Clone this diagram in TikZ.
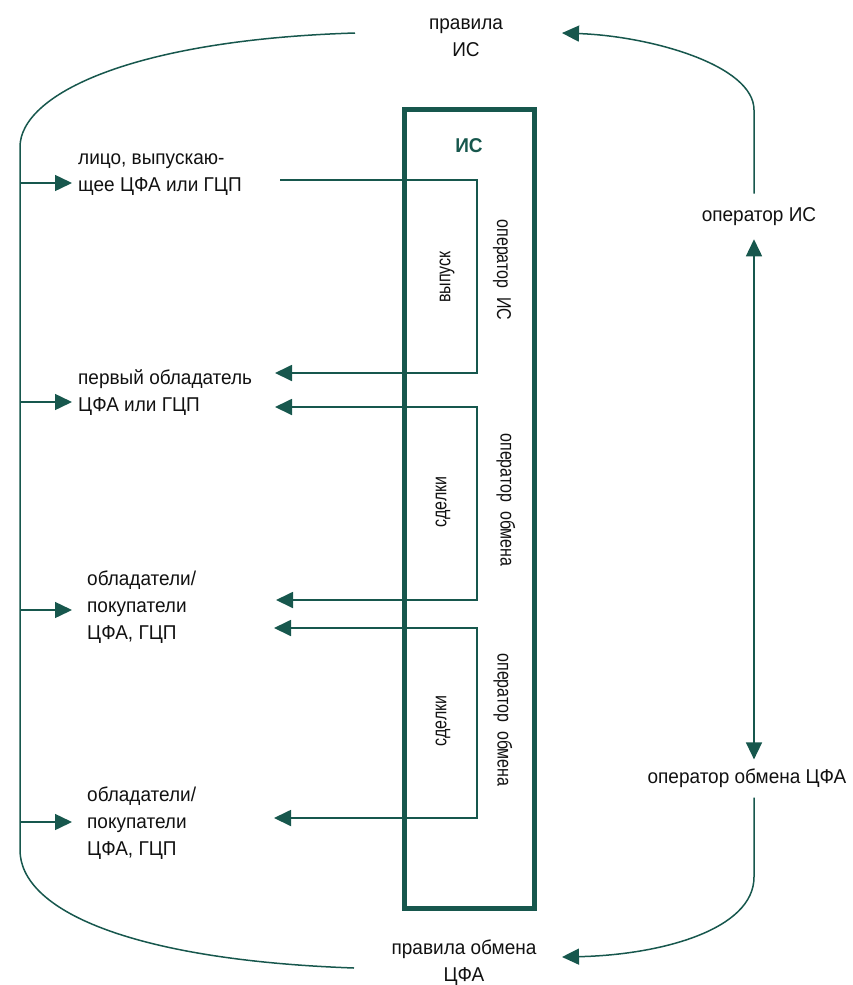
\documentclass[tikz,border=0pt]{standalone}
\usepackage{fontspec}
\setmainfont{Liberation Sans}[FakeStretch=0.95]
\newfontfamily\narrowfont{Liberation Sans}[FakeStretch=0.8]
\usetikzlibrary{arrows.meta}
\definecolor{isgreen}{RGB}{23,87,77}
\definecolor{ink}{RGB}{17,17,17}
\tikzset{
  lbl/.style={font=\fontsize{20}{27}\selectfont, text=ink, inner sep=0pt, align=left},
  side/.style={font=\fontsize{20}{27}\selectfont, text=ink, inner sep=0pt, align=center},
  vlbl/.style={font=\narrowfont\fontsize{20}{24}\selectfont, text=ink, inner sep=0pt},
  link/.style={draw=isgreen, line width=1.8pt},
  curve/.style={draw=isgreen, line width=1.5pt},
}
\begin{document}
\begin{tikzpicture}[x=1pt,y=-1pt,>={Triangle[length=17pt,width=16pt]}]
  \useasboundingbox (0,0) rectangle (852,985);
  % information system
  \node[draw=isgreen, line width=5pt, minimum width=130pt, minimum height=799pt, inner sep=0pt] (IS) at (469,508.5) {};
  \node[font=\bfseries\fontsize{20}{24}\selectfont, text=isgreen, inner sep=0pt] (IStitle) at (469,146) {ИС};
  % rules
  \node[side] (rulesIS) at (466,38) {правила\\ИС};
  \node[side] (rulesEx) at (464,963) {правила обмена\\ЦФА};
  % operators
  \node[side] (opIS) at (759,217) {оператор ИС};
  \node[side] (opEx) at (747,778) {оператор обмена ЦФА};
  % participants
  \node[lbl, anchor=west] (issuer) at (78,175) {лицо, выпускаю-\\щее ЦФА или ГЦП};
  \node[lbl, anchor=west] (first) at (78,393) {первый обладатель\\ЦФА или ГЦП};
  \node[lbl, anchor=west] (holdA) at (87,607) {обладатели/\\покупатели\\ЦФА, ГЦП};
  \node[lbl, anchor=west] (holdB) at (87,823) {обладатели/\\покупатели\\ЦФА, ГЦП};
  % inside the box
  \node[vlbl, rotate=90] (issue) at (447,277) {выпуск};
  \node[vlbl, rotate=-90] (opISin) at (502,270) {оператор\ \ ИС};
  \node[vlbl, rotate=90] (dealsA) at (443,502) {сделки};
  \node[vlbl, rotate=-90] (opExA) at (506,500) {оператор\ \ обмена};
  \node[vlbl, rotate=90] (dealsB) at (443,721) {сделки};
  \node[vlbl, rotate=-90] (opExB) at (503,720) {оператор\ \ обмена};

  \coordinate (bus) at (20,0);
  \coordinate (rx) at (754,0);
  \coordinate (kx) at (477,0);
  \coordinate (topL) at (355,33);
  \coordinate (topR) at (562,33);
  \coordinate (botL) at (354,968);
  \coordinate (botR) at (562,957);

  % left bus
  \draw[curve] (topL) .. controls (130,40) and (20,95) .. (20,147) -- (20,850)
    .. controls (20,910) and (130,960) .. (botL);
  \draw[curve,->] ([yshift=-8pt]issuer.west -| bus) -- ([shift={(-6pt,-8pt)}]issuer.west);
  \draw[curve,->] ([yshift=-9pt]first.west -| bus) -- ([shift={(-6pt,-9pt)}]first.west);
  \draw[curve,->] ([yshift=-3pt]holdA.west -| bus) -- ([shift={(-15pt,-3pt)}]holdA.west);
  \draw[curve,->] ([yshift=1pt]holdB.west -| bus) -- ([shift={(-15pt,1pt)}]holdB.west);

  % right side
  \draw[curve,->] ([yshift=14pt]opIS.north -| rx) -- (754,110)
    .. controls (754,65) and (650,36) .. (topR);
  \draw[curve,<->] ([yshift=-13pt]opIS.south -| rx) -- ([yshift=9pt]opEx.north -| rx);
  \draw[curve,->] ([yshift=-10pt]opEx.south -| rx) -- (754,877)
    .. controls (754,930) and (660,955) .. (botR);

  % brackets through the box
  \coordinate (s1) at (280,180);
  \coordinate (e1) at (275,373);
  \draw[link,->] (s1) -- (s1 -| kx) -- (e1 -| kx) -- (e1);
  \coordinate (s2) at (275,407);
  \coordinate (e2) at (276,600);
  \draw[link,<->] (s2) -- (s2 -| kx) -- (e2 -| kx) -- (e2);
  \coordinate (s3) at (274,628);
  \coordinate (e3) at (274,818);
  \draw[link,<->] (s3) -- (s3 -| kx) -- (e3 -| kx) -- (e3);
\end{tikzpicture}
\end{document}
